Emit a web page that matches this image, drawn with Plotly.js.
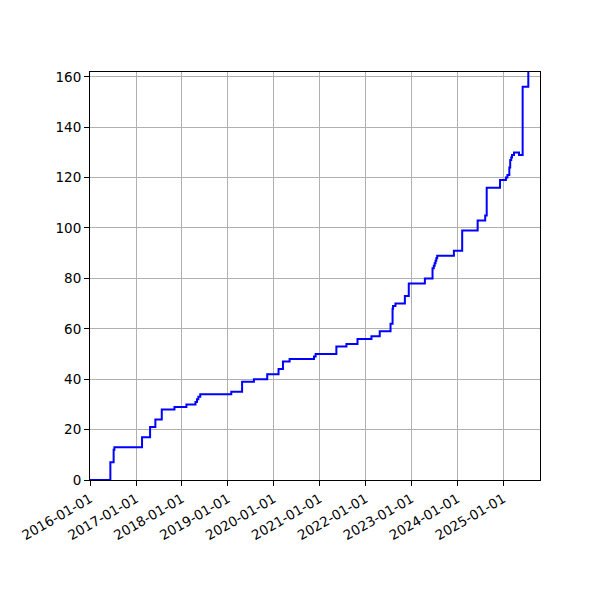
<!DOCTYPE html>
<html>
<head>
<meta charset="utf-8">
<script src="https://cdn.plot.ly/plotly-3.0.1.min.js"></script>
<style>
  body { margin: 0; background: #fff; }
  #chart { width: 600px; height: 600px; }
</style>
</head>
<body>
<div id="chart"></div>
<script>
var dates = [
  '2016-01-01', '2016-06-11', '2016-07-07', '2016-07-13', '2017-02-18',
  '2017-04-23', '2017-06-04', '2017-07-25', '2017-11-03', '2018-02-06',
  '2018-04-19', '2018-05-01', '2018-05-12', '2018-05-27', '2019-01-29',
  '2019-04-25', '2019-07-28', '2019-11-11', '2020-02-09', '2020-03-15',
  '2020-05-07', '2020-11-17', '2020-11-30', '2021-05-14', '2021-08-02',
  '2021-10-29', '2022-02-17', '2022-04-24', '2022-07-19', '2022-08-04',
  '2022-08-08', '2022-08-27', '2022-11-10', '2022-12-11', '2023-04-18',
  '2023-06-18', '2023-06-28', '2023-07-05', '2023-07-12', '2023-07-18',
  '2023-07-25', '2023-12-05', '2024-02-09', '2024-06-11', '2024-08-10',
  '2024-08-22', '2024-12-06', '2025-01-22', '2025-02-03', '2025-02-18',
  '2025-02-25', '2025-03-05', '2025-03-11', '2025-03-27', '2025-05-06',
  '2025-06-04', '2025-07-19'
];
var counts = [
  0, 7, 12, 13, 17,
  21, 24, 28, 29, 30,
  31, 32, 33, 34, 35,
  39, 40, 42, 44, 47,
  48, 49, 50, 53, 54,
  56, 57, 59, 62, 68,
  69, 70, 73, 78, 80,
  84, 85, 86, 87, 88,
  89, 91, 99, 103, 105,
  116, 119, 120, 121, 124,
  127, 128, 129, 130, 129,
  156, 162
];
var yearTicks = ['2016-01-01', '2017-01-01', '2018-01-01', '2019-01-01', '2020-01-01',
  '2021-01-01', '2022-01-01', '2023-01-01', '2024-01-01', '2025-01-01'];

var trace = {
  x: dates,
  y: counts,
  type: 'scatter',
  mode: 'lines',
  line: { shape: 'hv', color: '#0000ff', width: 2 },
  hoverinfo: 'x+y'
};

var axisStyle = {
  showline: true,
  linecolor: '#000',
  linewidth: 1,
  mirror: true,
  ticks: 'outside',
  ticklen: 5,
  tickwidth: 1,
  tickcolor: '#000',
  showgrid: true,
  gridcolor: '#b0b0b0',
  gridwidth: 1,
  zeroline: false,
  tickfont: { family: 'DejaVu Sans', size: 13.5, color: '#000' }
};

var layout = {
  width: 600,
  height: 600,
  margin: { l: 90, r: 60, t: 72, b: 120 },
  paper_bgcolor: '#fff',
  plot_bgcolor: '#fff',
  showlegend: false,
  xaxis: Object.assign({}, axisStyle, {
    type: 'date',
    range: ['2016-01-01', '2025-10-20'],
    tickmode: 'array',
    tickvals: yearTicks,
    ticktext: yearTicks,
    tickangle: -30
  }),
  yaxis: Object.assign({}, axisStyle, {
    range: [0, 161.9],
    tickmode: 'linear',
    tick0: 0,
    dtick: 20
  })
};

Plotly.newPlot(document.getElementById('chart'), [trace], layout, { displayModeBar: false, staticPlot: true });
</script>
</body>
</html>
